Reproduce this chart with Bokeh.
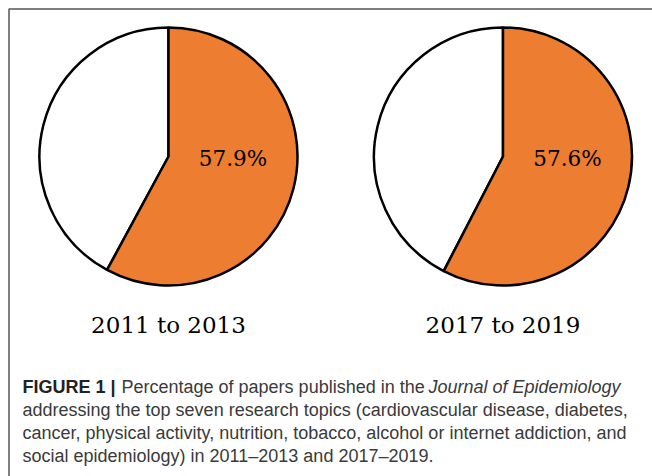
import math
from bokeh.plotting import figure
from bokeh.models import Range1d, ColumnDataSource
from bokeh.core.properties import value
from bokeh.embed import file_html
from bokeh.resources import INLINE

# ---- data ----
periods = ["2011 to 2013", "2017 to 2019"]
shares = [57.9, 57.6]          # % of papers on the top seven topics
share_labels = [f"{s}%" for s in shares]

caption_bold = "FIGURE 1 |"
caption_line1 = "Percentage of papers published in the"
caption_italic = "Journal of Epidemiology"
caption_lines = [
    "addressing the top seven research topics (cardiovascular disease, diabetes,",
    "cancer, physical activity, nutrition, tobacco, alcohol or internet addiction, and",
    "social epidemiology) in 2011\u20132013 and 2017\u20132019.",
]

ORANGE = "#ED7D31"
W, H = 652, 476

p = figure(width=W, height=H, x_range=Range1d(0, W), y_range=Range1d(0, H),
           output_backend="svg", toolbar_location=None,
           x_axis_type=None, y_axis_type=None, min_border=0)
p.grid.visible = False
p.outline_line_color = None
p.background_fill_color = "white"
p.border_fill_color = "white"

# frame border (top and left edges of the cropped figure box)
p.line(x=[8.5, 8.5, W], y=[0, H - 8.5, H - 8.5], line_color="#555555", line_width=1.5)

# pies
cx = [168, 502.5]
cy = 320
R = 129
two_pi = 2 * math.pi
top = math.pi / 2
orange_src = ColumnDataSource(dict(
    x=cx, y=[cy] * len(cx),
    start=[top - two_pi * s / 100 for s in shares],
    end=[top] * len(cx)))
white_src = ColumnDataSource(dict(
    x=cx, y=[cy] * len(cx),
    start=[top] * len(cx),
    end=[top - two_pi * s / 100 + two_pi for s in shares]))

p.wedge(x="x", y="y", radius=R, start_angle="start", end_angle="end",
        source=white_src, fill_color="white", line_color="black", line_width=2.5)
p.wedge(x="x", y="y", radius=R, start_angle="start", end_angle="end",
        source=orange_src, fill_color=ORANGE, line_color="black", line_width=2.5)

# percentage labels
p.text(x=[c + 0.5 * R for c in cx], y=[cy - 2] * len(cx), text=share_labels,
       text_font=value("DejaVu Serif"), text_font_size="21.5px",
       text_align="center", text_baseline="middle", text_color="black")

# period titles
p.text(x=cx, y=[152] * len(cx), text=periods,
       text_font=value("DejaVu Serif"), text_font_size="23px",
       text_align="center", text_baseline="middle", text_color="black")

# caption
FS = "18px"
FONT = value("Liberation Sans")
p.text(x=[22], y=[90], text=[caption_bold], text_font=FONT,
       text_font_style="bold", text_font_size=FS, text_color="#222222",
       text_baseline="alphabetic")
p.text(x=[121], y=[90], text=[caption_line1], text_font=FONT,
       text_font_size=FS, text_color="#3a3a3a", text_baseline="alphabetic")
p.text(x=[428], y=[90], text=[caption_italic], text_font=FONT,
       text_font_style="italic", text_font_size=FS, text_color="#3a3a3a",
       text_baseline="alphabetic")
p.text(x=[22] * len(caption_lines), y=[67, 44, 21], text=caption_lines,
       text_font=FONT, text_font_size=FS, text_color="#3a3a3a",
       text_baseline="alphabetic")

open("out.html", "w").write(file_html(p, INLINE))
